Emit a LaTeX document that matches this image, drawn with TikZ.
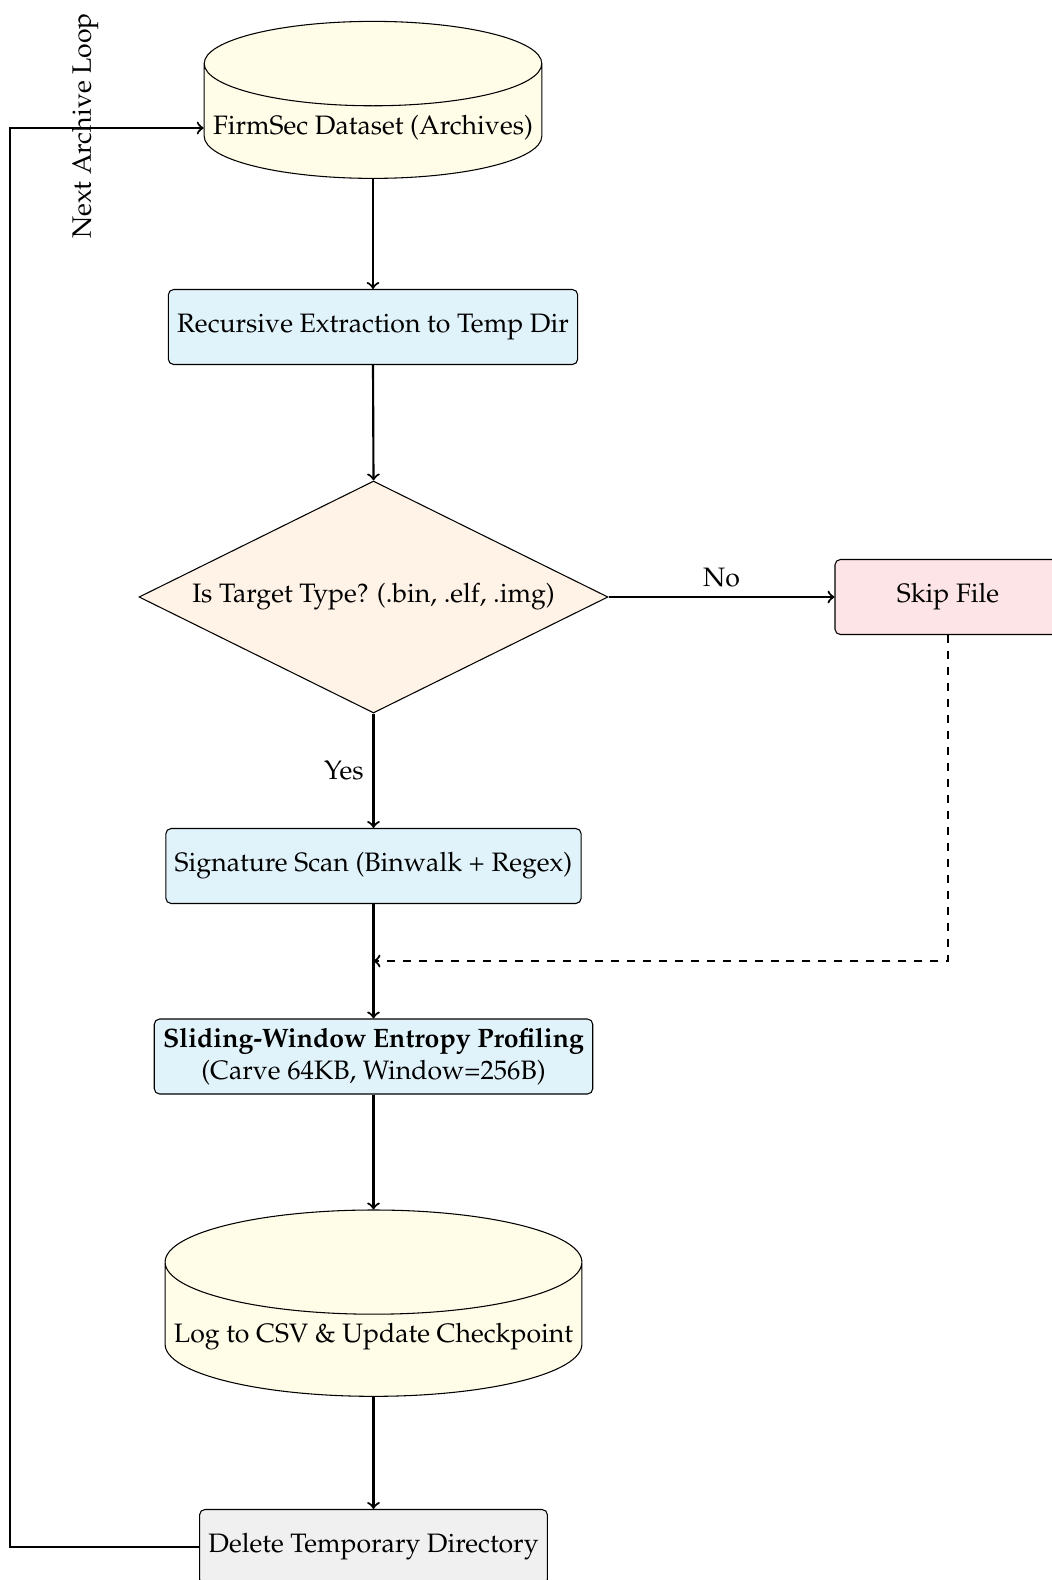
\documentclass[tikz,border=0pt]{standalone}
\usepackage[T1]{fontenc}
\usepackage{mathpazo}
\usetikzlibrary{shapes.geometric}

% one unit of the drawing grid
\newcommand\pxu{0.3754pt}

\definecolor{storefill}{HTML}{FFFCE8}
\definecolor{procfill}{HTML}{E1F3FA}
\definecolor{decfill}{HTML}{FFF2E6}
\definecolor{skipfill}{HTML}{FDE4E6}
\definecolor{cleanfill}{HTML}{F0F0F0}

\begin{document}
\begin{tikzpicture}[x=\pxu, y=-\pxu,
  process/.style={rectangle, rounded corners=2pt, draw, minimum height=75*\pxu, align=center},
  datastore/.style={cylinder, shape border rotate=90, aspect=0.25, draw, fill=storefill},
  decision/.style={diamond, aspect=2, draw, fill=decfill, inner sep=0pt,
                   minimum width=469*\pxu, minimum height=232*\pxu},
  flow/.style={draw, thick, ->}
]
\useasboundingbox (0,0) rectangle (1052,1580);

% data stores, steps and the decision
\node[datastore, minimum height=157*\pxu] (data) at (373,128) {FirmSec Dataset (Archives)};
\node[process, fill=procfill] (extract) at (373,327) {Recursive Extraction to Temp Dir};
\node[decision] (check) at (373.5,597) {Is Target Type? (.bin, .elf, .img)};
\node[process, fill=skipfill, minimum width=226*\pxu] (skip) at (948,597) {Skip File};
\node[process, fill=procfill] (sig) at (373.5,866) {Signature Scan (Binwalk + Regex)};
\coordinate (join) at (373.5,961);
\node[process, fill=procfill] (entropy) at (373.5,1056.5)
  {\textbf{Sliding-Window Entropy Profiling}\\(Carve 64KB, Window=256B)};
\node[datastore, minimum height=186*\pxu] (log) at (373.5,1337) {Log to CSV \& Update Checkpoint};
\node[process, fill=cleanfill] (delete) at (373.5,1547) {Delete Temporary Directory};

% main flow
\draw[flow] (data.south) -- (extract.north);
\draw[flow] (extract.south) -- (check.north);
\draw[flow] (check.east) -- node[above] {No} (skip.west);
\draw[flow] (check.south) -- node[left] {Yes} (sig.north);
\draw[flow] (sig.south) -- (entropy.north);
\draw[flow, dashed] (skip.south) |- (join);
\draw[flow] (entropy.south) -- (log.north);
\draw[flow] (log.south) -- (delete.north);

% loop back to the next archive
\coordinate (loopx) at (10,0);
\draw[flow] (delete.west) -- (delete.west -| loopx) -- (data.west -| loopx) -- (data.west);
\node[rotate=90] (looplabel) at (85,126) {Next Archive Loop};
\end{tikzpicture}
\end{document}
